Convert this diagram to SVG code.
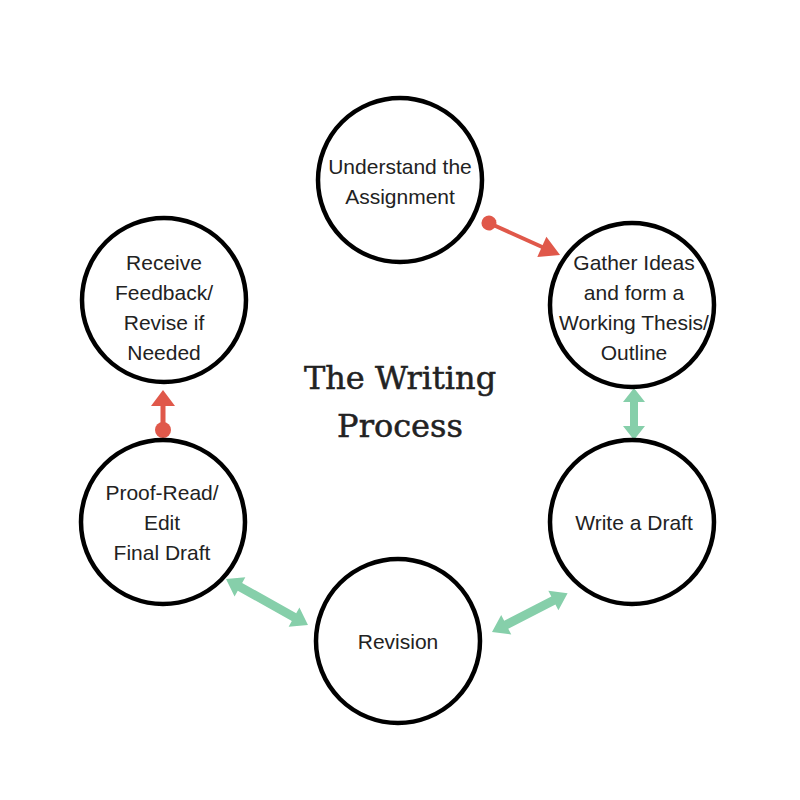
<svg xmlns="http://www.w3.org/2000/svg" width="800" height="800" viewBox="0 0 800 800">
<style>
.node circle{fill:#fff;stroke:#000;stroke-width:4.5}
.lbl{font-family:"Liberation Sans",Arial,sans-serif;font-size:21px;fill:#222;text-anchor:middle}
.title{font-family:"DejaVu Serif","Liberation Serif",serif;font-size:32px;fill:#222;stroke:#222;stroke-width:0.5;text-anchor:middle}
.green{fill:#86CFAA}
.red{fill:#E0584A}
.redline{stroke:#E0584A;stroke-width:4;fill:none}
</style>
<rect width="800" height="800" fill="#fff"/>
<g id="connectors">
  <g transform="translate(489,223) rotate(24.3)">
    <circle class="red" cx="0" cy="0" r="7.5"/>
    <line class="redline" x1="0" y1="0" x2="62" y2="0"/>
    <path class="red" d="M78,0 L58,-11 L58,11 Z"/>
  </g>
  <path class="green" transform="translate(634,388) rotate(90)" d="M0,0 L14,-11 L14,-4 L38,-4 L38,-11 L52,0 L38,11 L38,4 L14,4 L14,11 Z"/>
  <path class="green" transform="translate(492,632) rotate(-27.2)" d="M0,0 L16,-11 L16,-4.5 L69,-4.5 L69,-11 L85,0 L69,11 L69,4.5 L16,4.5 L16,11 Z"/>
  <path class="green" transform="translate(226,579) rotate(29.3)" d="M0,0 L16,-11 L16,-4.5 L78,-4.5 L78,-11 L94,0 L78,11 L78,4.5 L16,4.5 L16,11 Z"/>
  <g>
    <circle class="red" cx="163" cy="430" r="8"/>
    <rect class="red" x="160.5" y="404" width="5" height="26"/>
    <path class="red" d="M163,390 L151,406 L175,406 Z"/>
  </g>
</g>
<g id="n1" class="node">
  <circle cx="400" cy="180" r="82"/>
  <text class="lbl" x="400" y="174">Understand the</text>
  <text class="lbl" x="400" y="204">Assignment</text>
</g>
<g id="n2" class="node">
  <circle cx="632" cy="305" r="82"/>
  <text class="lbl" x="634" y="270">Gather Ideas</text>
  <text class="lbl" x="634" y="300">and form a</text>
  <text class="lbl" x="634" y="330">Working Thesis/</text>
  <text class="lbl" x="634" y="360">Outline</text>
</g>
<g id="n3" class="node">
  <circle cx="632" cy="522" r="82"/>
  <text class="lbl" x="634" y="530">Write a Draft</text>
</g>
<g id="n4" class="node">
  <circle cx="398" cy="641" r="82"/>
  <text class="lbl" x="398" y="649">Revision</text>
</g>
<g id="n5" class="node">
  <circle cx="163" cy="522" r="82"/>
  <text class="lbl" x="162" y="500">Proof-Read/</text>
  <text class="lbl" x="162" y="530">Edit</text>
  <text class="lbl" x="162" y="560">Final Draft</text>
</g>
<g id="n6" class="node">
  <circle cx="164" cy="300" r="82"/>
  <text class="lbl" x="164" y="270">Receive</text>
  <text class="lbl" x="164" y="300">Feedback/</text>
  <text class="lbl" x="164" y="330">Revise if</text>
  <text class="lbl" x="164" y="360">Needed</text>
</g>
<g id="title">
  <text class="title" x="400" y="389">The Writing</text>
  <text class="title" x="400" y="437">Process</text>
</g>
</svg>
